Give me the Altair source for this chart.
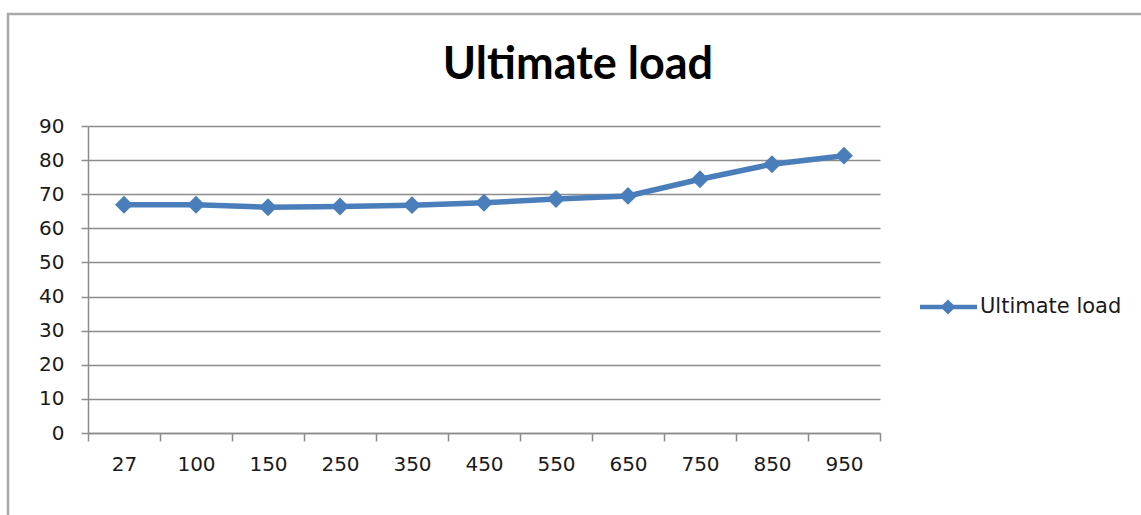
import altair as alt
import pandas as pd

# Series data
categories = ["27", "100", "150", "250", "350", "450", "550", "650", "750", "850", "950"]
ultimate_load = [66.9, 66.9, 66.2, 66.4, 66.8, 67.5, 68.6, 69.5, 74.4, 78.8, 81.3]
series_name = "Ultimate load"
title_text = "Ultimate load"
y_ticks = [0, 10, 20, 30, 40, 50, 60, 70, 80, 90]

BLUE = "#4a7ebb"
GRID = "#8c8c8c"
FRAME = "#a9a9a9"
W, H = 792, 307
LEFT, TOP = 88, 126
LABEL_FONT = "DejaVu Sans"

df = pd.DataFrame({"temp": categories, "load": ultimate_load})
one = pd.DataFrame({"name": [series_name], "title": [title_text]})

x_enc = alt.X(
    "temp:N",
    sort=categories,
    bandPosition=0.5,
    scale=alt.Scale(type="band", paddingInner=0, paddingOuter=0),
    axis=alt.Axis(
        title=None,
        labelAngle=0,
        tickBand="extent",
        grid=False,
        domainColor=GRID,
        domainWidth=1.5,
        tickColor=GRID,
        tickWidth=1.5,
        tickSize=8,
        labelPadding=13,
        labelFont=LABEL_FONT,
        labelFontSize=20,
        labelColor="#1a1a1a",
    ),
)
y_enc = alt.Y(
    "load:Q",
    scale=alt.Scale(domain=[0, 90], nice=False, zero=True),
    axis=alt.Axis(
        title=None,
        values=y_ticks,
        grid=True,
        gridColor=GRID,
        gridWidth=1.5,
        domainColor=GRID,
        domainWidth=1.5,
        tickColor=GRID,
        tickWidth=1.5,
        tickSize=7,
        labelPadding=17,
        labelFont=LABEL_FONT,
        labelFontSize=20,
        labelColor="#1a1a1a",
    ),
)

base = alt.Chart(df)
line = base.mark_line(color=BLUE, strokeWidth=5.5).encode(x=x_enc, y=y_enc)
points = base.mark_point(shape="diamond", filled=True, size=320, color=BLUE, opacity=1).encode(
    x=x_enc, y=y_enc
)

# Outer chart frame
frame = alt.Chart(one).mark_rect(fillOpacity=0, stroke=FRAME, strokeWidth=2.5).encode(
    x=alt.value(8 - LEFT),
    x2=alt.value(1141 - LEFT + 20),
    y=alt.value(14 - TOP),
    y2=alt.value(515 - TOP + 20),
)

# Chart title
title = alt.Chart(one).mark_text(
    font="Lato", fontSize=45, fontWeight="bold", color="#000000", align="center", baseline="alphabetic"
).encode(x=alt.value(578 - LEFT), y=alt.value(79 - TOP), text="title:N")

# Legend: line sample with diamond marker and series label
leg_y = 307 - TOP
leg_line = alt.Chart(one).mark_rule(color=BLUE, strokeWidth=4.5).encode(
    x=alt.value(920 - LEFT), x2=alt.value(977 - LEFT), y=alt.value(leg_y)
)
leg_point = alt.Chart(one).mark_point(shape="diamond", filled=True, size=230, color=BLUE, opacity=1).encode(
    x=alt.value(948 - LEFT), y=alt.value(leg_y)
)
leg_text = alt.Chart(one).mark_text(
    align="left", baseline="middle", font=LABEL_FONT, fontSize=21, color="#1a1a1a"
).encode(x=alt.value(980 - LEFT), y=alt.value(leg_y), text="name:N")

chart = (
    alt.layer(frame, line, points, title, leg_line, leg_point, leg_text)
    .properties(
        width=W,
        height=H,
        autosize=alt.AutoSizeParams(type="none"),
        padding={"left": LEFT, "top": TOP, "right": 1141 - LEFT - W, "bottom": 515 - TOP - H},
        background="white",
    )
    .configure_view(stroke=None)
)

chart.save("out.html", embed_options={"renderer": "svg", "actions": False})
